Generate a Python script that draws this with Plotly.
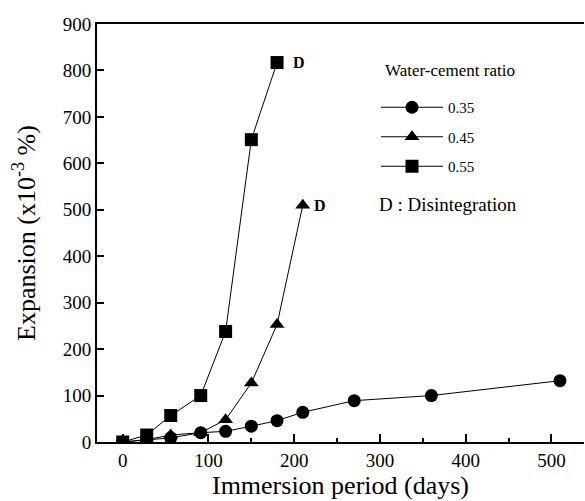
import plotly.graph_objects as go

# Data
days_035 = [0, 28, 56, 91, 120, 150, 180, 210, 270, 360, 510]
exp_035 = [0, 5, 9, 20, 23, 34, 46, 64, 89, 100, 132]

days_045 = [0, 28, 56, 91, 120, 150, 180, 210]
exp_045 = [0, 5, 15, 20, 48, 127, 253, 510]

days_055 = [0, 28, 56, 91, 120, 150, 180]
exp_055 = [0, 15, 57, 100, 238, 651, 817]

series_names = ["0.35", "0.45", "0.55"]
symbols = ["circle", "triangle-up", "square"]

d_labels_x = [206, 230]
d_labels_y = [818, 510]

x_ticks = [0, 100, 200, 300, 400, 500]
y_ticks = [0, 100, 200, 300, 400, 500, 600, 700, 800, 900]

FONT = "Liberation Serif"

fig = go.Figure()
for i, (xs, ys) in enumerate([(days_035, exp_035), (days_045, exp_045), (days_055, exp_055)]):
    fig.add_trace(go.Scatter(
        x=xs, y=ys, mode="lines+markers", name=series_names[i],
        legendgroup=series_names[i],
        line=dict(color="black", width=1),
        marker=dict(symbol=symbols[i], size=13,
                    color="black", line=dict(width=0)),
    ))

for xv, yv in zip(d_labels_x, d_labels_y):
    fig.add_annotation(x=xv, y=yv, text="<b>D</b>", showarrow=False,
                       font=dict(family=FONT, size=16, color="black"),
                       xanchor="center", yanchor="middle")

fig.add_annotation(xref="paper", yref="paper", x=(377 - 97) / 487, y=(442 - 204) / 418,
                   text="D : Disintegration", showarrow=False, xanchor="left",
                   yanchor="middle", font=dict(family=FONT, size=19, color="black"))

fig.add_annotation(xref="paper", yref="paper", x=(383 - 97) / 487, y=(442 - 70) / 418,
                   text="Water-cement ratio", showarrow=False, xanchor="left",
                   yanchor="middle", font=dict(family=FONT, size=17, color="black"))

fig.update_layout(
    width=585, height=501,
    margin=dict(l=97, r=1, t=24, b=59),
    paper_bgcolor="white", plot_bgcolor="white",
    font=dict(family=FONT, color="black"),
    showlegend=True,
    legend=dict(
        x=(376 - 97) / 487, y=(442 - 91) / 418, xanchor="left", yanchor="top",
        bgcolor="rgba(0,0,0,0)",
        font=dict(family=FONT, size=15),
        tracegroupgap=7,
        itemwidth=62,
    ),
    xaxis=dict(
        range=[-30, 538], tickvals=x_ticks, ticks="inside", ticklen=8, tickwidth=1.5,
        tickcolor="black", showline=True, linecolor="black", linewidth=2, mirror=True,
        showgrid=False, zeroline=False,
        minor=dict(dtick=50, tick0=0, ticks="inside", ticklen=4, tickcolor="black", showgrid=False),
        tickfont=dict(family=FONT, size=19, color="black"),
        title=dict(text="Immersion period (days)", font=dict(family=FONT, size=26, color="black"), standoff=0),
    ),
    yaxis=dict(
        range=[0, 900], tickvals=y_ticks, ticks="inside", ticklen=7, tickwidth=1.5,
        tickcolor="black", showline=True, linecolor="black", linewidth=2,
        showgrid=False, zeroline=False,
        tickfont=dict(family=FONT, size=19, color="black"),
        title=dict(text="Expansion (x10<sup>-3</sup> %)", font=dict(family=FONT, size=26, color="black"), standoff=20),
    ),
)

fig.write_html("out.html")
